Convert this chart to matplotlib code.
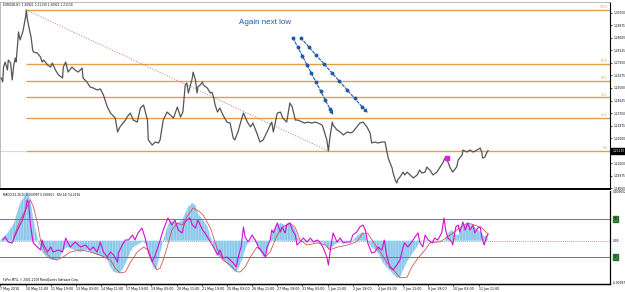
import matplotlib
matplotlib.use('Agg')
import matplotlib.pyplot as plt
import matplotlib.transforms as mtransforms
import numpy as np

# ---------------- data (hourly bars counted from 7 May 2010 03:00) ----------------
price_bar = [1, 3, 4, 6, 9, 10, 13, 15, 17, 19,
             20, 22, 23, 25, 28, 29, 32, 33, 34, 37,
             39, 41, 42, 47, 51, 53, 55, 60, 64, 66,
             70, 74, 79, 80, 83, 86, 91, 95, 99, 104,
             105, 110, 114, 118, 123, 127, 131, 136, 140, 146,
             149, 152, 159, 161, 165, 169, 174, 178, 182, 187,
             188, 193, 197, 201, 203, 207, 212, 216, 220, 225,
             229, 232, 235, 237, 239, 241, 244, 245, 248, 250,
             251, 254, 257, 258, 263, 267, 269, 271, 273, 276,
             279, 283, 288, 292, 296, 298, 302, 307, 309, 314,
             318, 321, 326, 330, 334, 339, 343, 345, 347, 352,
             356, 359, 364, 368, 371, 375, 378, 384, 387, 391,
             396, 400, 404, 409, 410, 415, 417, 419, 422, 423,
             428, 432, 436, 441, 445, 448, 453, 457, 461, 466,
             470, 472, 476, 480, 485, 489, 491, 493, 495, 498,
             499, 502, 504, 505, 508, 512, 514, 517, 521, 525,
             530, 533, 536, 540, 542, 546, 550, 555, 559, 563,
             565, 568, 572, 575, 580, 582, 584, 587, 588, 593,
             597, 601, 606, 610, 612, 613, 616, 618, 620]
price_close = [1.2620, 1.2592, 1.2696, 1.2731, 1.2675, 1.2745, 1.2724, 1.2606, 1.2710, 1.2759,
               1.2731, 1.2864, 1.2941, 1.2885, 1.2934, 1.2955, 1.3045, 1.3094, 1.3038, 1.2955,
               1.2906, 1.2815, 1.2801, 1.2794, 1.2766, 1.2731, 1.2745, 1.2710, 1.2696, 1.2724,
               1.2675, 1.2640, 1.2620, 1.2696, 1.2731, 1.2661, 1.2696, 1.2675, 1.2661, 1.2689,
               1.2620, 1.2592, 1.2557, 1.2550, 1.2536, 1.2543, 1.2501, 1.2417, 1.2375, 1.2340,
               1.2243, 1.2278, 1.2326, 1.2347, 1.2375, 1.2326, 1.2312, 1.2410, 1.2431, 1.2326,
               1.2187, 1.2152, 1.2173, 1.2166, 1.2187, 1.2326, 1.2382, 1.2361, 1.2340, 1.2417,
               1.2347, 1.2382, 1.2571, 1.2585, 1.2515, 1.2557, 1.2620, 1.2661, 1.2606, 1.2515,
               1.2557, 1.2571, 1.2592, 1.2571, 1.2550, 1.2515, 1.2520, 1.2487, 1.2431, 1.2382,
               1.2410, 1.2361, 1.2312, 1.2305, 1.2201, 1.2187, 1.2243, 1.2340, 1.2375, 1.2312,
               1.2278, 1.2305, 1.2236, 1.2173, 1.2187, 1.2243, 1.2291, 1.2312, 1.2243, 1.2375,
               1.2382, 1.2340, 1.2312, 1.2445, 1.2417, 1.2326, 1.2326, 1.2312, 1.2305, 1.2312,
               1.2305, 1.2312, 1.2305, 1.2291, 1.2278, 1.2187, 1.2110, 1.2208, 1.2312, 1.2291,
               1.2257, 1.2243, 1.2222, 1.2243, 1.2236, 1.2243, 1.2278, 1.2305, 1.2312, 1.2278,
               1.2236, 1.2166, 1.2173, 1.2166, 1.2173, 1.2173, 1.2117, 1.2061, 1.2033, 1.1991,
               1.1963, 1.1908, 1.1887, 1.1908, 1.1929, 1.1963, 1.1943, 1.1963, 1.1943, 1.1922,
               1.1943, 1.1977, 1.1956, 1.1963, 1.1998, 1.1977, 1.1943, 1.1963, 1.1998, 1.2033,
               1.2061, 1.2047, 1.1991, 1.1963, 1.1998, 1.2047, 1.2061, 1.2082, 1.2117, 1.2103,
               1.2117, 1.2103, 1.2117, 1.2131, 1.2103, 1.2061, 1.2068, 1.2096, 1.2113]

macd_bar = [0, 9, 17, 21, 25, 30, 34, 38, 42, 47,
            48, 53, 60, 66, 72, 76, 80, 85, 89, 93,
            102, 110, 118, 124, 131, 136, 140, 144, 149, 152,
            156, 161, 165, 169, 174, 178, 182, 187, 191, 194,
            197, 199, 203, 207, 212, 216, 220, 225, 231, 235,
            239, 244, 248, 251, 258, 263, 267, 271, 276, 279,
            286, 292, 298, 302, 307, 311, 315, 320, 326, 330,
            334, 339, 343, 347, 352, 356, 362, 366, 371, 375,
            378, 384, 394, 410, 415, 417, 422, 428, 436, 448,
            455, 460, 464, 467, 472, 479, 483, 486, 491, 498,
            504, 508, 512, 518, 525, 531, 533, 542, 550, 559,
            565, 569, 574, 578, 582, 587, 591, 594, 599, 603,
            607, 612, 615, 620]
macd_main = [0.0001, 0.0014, 0.0032, 0.0051, 0.0070, 0.0081, 0.0092, 0.0076, 0.0038, 0.0007,
             -0.0002, -0.0021, -0.0032, -0.0036, -0.0036, -0.0030, -0.0017, -0.0012, -0.0014, -0.0017,
             -0.0021, -0.0017, -0.0023, -0.0027, -0.0030, -0.0036, -0.0049, -0.0058, -0.0060, -0.0060,
             -0.0051, -0.0036, -0.0021, -0.0012, -0.0008, -0.0004, -0.0002, -0.0008, -0.0030, -0.0049,
             -0.0054, -0.0049, -0.0023, 0.0001, 0.0025, 0.0038, 0.0035, 0.0033, 0.0038, 0.0051,
             0.0063, 0.0070, 0.0066, 0.0051, 0.0038, 0.0027, 0.0009, -0.0010, -0.0025, -0.0032,
             -0.0040, -0.0049, -0.0058, -0.0054, -0.0036, -0.0017, -0.0002, 0.0001, -0.0004, -0.0017,
             -0.0030, -0.0023, 0.0001, 0.0020, 0.0029, 0.0033, 0.0029, 0.0033, 0.0029, 0.0020,
             0.0005, -0.0002, -0.0002, -0.0004, -0.0012, -0.0017, -0.0012, -0.0004, -0.0002, 0.0001,
             0.0011, 0.0016, 0.0011, -0.0002, -0.0012, -0.0021, -0.0030, -0.0040, -0.0049, -0.0060,
             -0.0069, -0.0068, -0.0054, -0.0036, -0.0021, -0.0008, -0.0002, 0.0001, -0.0002, -0.0002,
             0.0001, 0.0014, 0.0020, 0.0011, 0.0011, 0.0025, 0.0029, 0.0033, 0.0029, 0.0025,
             0.0020, 0.0014, 0.0008, 0.0010]

signal_bar = [17, 25, 34, 38, 42, 47, 51, 57, 64, 72,
              80, 89, 102, 114, 127, 140, 146, 152, 159, 165,
              174, 182, 188, 194, 199, 203, 207, 212, 218, 225,
              231, 237, 245, 254, 258, 267, 276, 283, 292, 301,
              305, 311, 318, 326, 333, 337, 343, 352, 359, 368,
              375, 381, 390, 403, 413, 419, 428, 441, 453, 461,
              467, 474, 483, 491, 502, 508, 517, 523, 531, 540,
              546, 559, 572, 584, 594, 603, 612, 620]
signal_val = [0.0007, 0.0038, 0.0063, 0.0076, 0.0063, 0.0033, 0.0001, -0.0021, -0.0032, -0.0036,
              -0.0030, -0.0021, -0.0017, -0.0021, -0.0027, -0.0036, -0.0051, -0.0060, -0.0058, -0.0041,
              -0.0021, -0.0012, -0.0017, -0.0041, -0.0054, -0.0051, -0.0036, -0.0012, 0.0020, 0.0033,
              0.0029, 0.0044, 0.0061, 0.0053, 0.0047, 0.0024, -0.0017, -0.0036, -0.0045, -0.0058,
              -0.0058, -0.0049, -0.0030, -0.0012, -0.0021, -0.0030, -0.0021, 0.0011, 0.0025, 0.0033,
              0.0024, 0.0001, -0.0008, -0.0004, -0.0008, -0.0017, -0.0012, -0.0008, -0.0002, 0.0014,
              0.0014, -0.0002, -0.0021, -0.0040, -0.0058, -0.0069, -0.0068, -0.0049, -0.0032, -0.0017,
              -0.0004, -0.0002, 0.0011, 0.0024, 0.0033, 0.0029, 0.0024, 0.0012]

rsi_bar = [3, 6, 10, 15, 19, 23, 28, 32, 34, 36,
           38, 41, 42, 47, 51, 53, 55, 60, 64, 67,
           74, 79, 83, 86, 89, 95, 102, 108, 114, 118,
           123, 127, 131, 136, 140, 144, 149, 150, 155, 159,
           163, 168, 171, 175, 180, 184, 188, 193, 196, 199,
           202, 207, 212, 213, 218, 222, 226, 231, 234, 237,
           241, 244, 248, 251, 257, 260, 264, 267, 271, 276,
           279, 283, 288, 292, 296, 300, 302, 306, 309, 311,
           315, 320, 324, 328, 333, 337, 339, 343, 345, 347,
           352, 356, 358, 362, 364, 368, 371, 375, 377, 381,
           385, 390, 394, 398, 403, 406, 410, 415, 417, 420,
           423, 428, 432, 436, 441, 445, 448, 453, 457, 461,
           464, 467, 472, 476, 480, 485, 488, 491, 495, 499,
           504, 508, 512, 514, 518, 523, 527, 531, 533, 537,
           540, 544, 549, 552, 556, 561, 564, 566, 569, 574,
           575, 579, 582, 584, 588, 591, 594, 597, 601, 603,
           607, 610, 612, 615, 618, 620]
rsi_val = [47.9, 51.1, 45.7, 44.7, 53.2, 60.7, 69.3, 80.0, 90.7, 87.5,
           66.1, 47.9, 44.7, 40.4, 37.2, 47.9, 42.5, 35.0, 40.4, 35.0,
           37.2, 35.0, 50.0, 44.7, 40.4, 45.7, 40.4, 42.5, 37.2, 40.4,
           35.0, 45.7, 35.0, 29.7, 35.0, 31.8, 24.3, 34.0, 42.5, 47.9,
           47.9, 53.2, 47.9, 55.4, 60.7, 50.0, 35.0, 24.3, 29.7, 37.2,
           44.7, 58.6, 69.3, 71.4, 63.9, 69.3, 58.6, 55.4, 66.1, 69.3,
           71.4, 63.9, 60.7, 69.3, 58.6, 55.4, 50.0, 45.7, 40.4, 31.8,
           37.2, 28.6, 29.7, 26.5, 23.3, 19.0, 28.6, 40.4, 61.8, 51.1,
           45.7, 53.2, 47.9, 40.4, 35.0, 29.7, 40.4, 47.9, 58.6, 55.4,
           66.1, 56.4, 61.8, 55.4, 63.9, 66.1, 58.6, 53.2, 42.5, 45.7,
           50.0, 45.7, 50.0, 45.7, 47.9, 45.7, 40.4, 29.7, 21.1, 40.4,
           55.4, 45.7, 50.0, 44.7, 45.7, 45.7, 53.2, 56.4, 61.8, 63.9,
           58.6, 44.7, 34.0, 35.0, 40.4, 37.2, 47.9, 31.8, 19.0, 15.8,
           21.1, 26.5, 40.4, 44.7, 40.4, 45.7, 51.1, 55.4, 45.7, 40.4,
           53.2, 47.9, 44.7, 50.0, 47.9, 55.4, 71.4, 58.6, 50.0, 45.7,
           42.5, 61.8, 63.9, 56.4, 67.1, 58.6, 66.1, 58.6, 63.9, 55.4,
           60.7, 61.8, 51.1, 42.5, 51.1, 54.2]

fib_high = 1.3094
fib_low = 1.2110
fib_start_bar = 33
fib_end_bar = 417
fib_levels = [0.0, 23.6, 38.2, 50.0, 61.8, 100.0]
fib_labels = ['0.0', '23.6', '38.2', '50.0', '61.8', '100.0']

marker_bar = 568
marker_price = 1.2058

arrow_lines = [((372, 1.2899), (423, 1.2361)),
               ((382, 1.2899), (467, 1.2375))]

time_labels = ['7 May 2010', '10 May 11:00', '11 May 19:00', '13 May 03:00', '14 May 11:00',
               '17 May 19:00', '19 May 03:00', '20 May 11:00', '21 May 19:00', '25 May 03:00',
               '26 May 11:00', '27 May 19:00', '31 May 03:00', '1 Jun 11:00', '2 Jun 19:00',
               '4 Jun 03:00', '7 Jun 11:00', '8 Jun 19:00', '10 Jun 03:00', '11 Jun 11:00']
time_tick_bars = [32 * i for i in range(len(time_labels))]

price_ticks = [1.30750, 1.29875, 1.29000, 1.28125, 1.27250, 1.26375, 1.25500, 1.24625,
               1.23750, 1.22875, 1.22000, 1.20250, 1.19375, 1.18500]
last_price = 1.21130

# ---------------- layout ----------------
W, H = 625, 292
plt.rcParams['hatch.linewidth'] = 0.35
fig = plt.figure(figsize=(W / 100, H / 100), dpi=100)
fig.patch.set_facecolor('white')


def fy(py):
    return 1 - py / H


XMAX = 775
ax = fig.add_axes([0, fy(189), 610 / W, (189 - 2) / H])
axm = fig.add_axes([0, fy(284), 610 / W, (284 - 191) / H])
axr = axm.twinx()

FIB_C = '#E3A048'
SMALL = 2.1

# ---------------- price panel ----------------
ax.set_xlim(-0.5, XMAX)
ax.set_ylim(1.1845, 1.3150)
for lv, lab in zip(fib_levels, fib_labels):
    p = fib_low + (fib_high - fib_low) * lv / 100.0
    ax.hlines(p, fib_start_bar, XMAX, color=FIB_C, lw=1.0, zorder=2)
    ax.text(XMAX - 3, p + 0.0004, lab, color=FIB_C, fontsize=SMALL, ha='right', va='bottom')
ax.hlines(fib_low, 0, fib_start_bar, color='#D8D8D8', lw=0.8, zorder=2)
ax.plot([fib_start_bar, fib_end_bar], [fib_high, fib_low], color='#D08888', lw=0.7,
        ls=(0, (1.2, 1.5)), zorder=2)
ax.plot(price_bar, price_close, color='#555555', lw=0.9, zorder=3)
ax.plot([marker_bar], [marker_price], marker='s', ms=3.2, color='#E020E0', mec='#E020E0', zorder=4)

ARROW_C = '#1F5AA6'
for (x0, y0), (x1, y1) in arrow_lines:
    ax.annotate('', xy=(x1, y1), xytext=(x0, y0),
                arrowprops=dict(arrowstyle='-|>', color=ARROW_C, lw=0.8, ls=(0, (2.5, 1.5)),
                                mutation_scale=5, shrinkA=0, shrinkB=0), zorder=5)
    t = np.linspace(0, 0.92, 9)
    ax.plot(x0 + t * (x1 - x0), y0 + t * (y1 - y0), 'o', ms=1.8, color=ARROW_C, zorder=5)
ax.text(337, 1.3010, 'Again next low', color=ARROW_C, fontsize=5.8,
        family=['Liberation Sans', 'DejaVu Sans'], ha='center', va='center')

ax.yaxis.tick_right()
ax.set_yticks(price_ticks)
ax.set_yticklabels(['%.5f' % v for v in price_ticks])
ax.tick_params(axis='y', labelsize=SMALL, length=1.5, width=0.5, pad=1, colors='black')
ax.set_xticks([])
for s in ['left', 'top']:
    ax.spines[s].set_color('#B0B0B0')
    ax.spines[s].set_linewidth(0.6)
ax.spines['right'].set_color('black')
ax.spines['right'].set_linewidth(0.8)
ax.spines['bottom'].set_color('black')
ax.spines['bottom'].set_linewidth(1.4)
btrans = mtransforms.blended_transform_factory(ax.transAxes, ax.transData)
ax.text(1.004, last_price, '%.5f' % last_price, transform=btrans, fontsize=SMALL, color='white',
        ha='left', va='center', zorder=10, clip_on=False,
        bbox=dict(facecolor='black', edgecolor='black', pad=0.7))
fig.text(3 / W, fy(5), 'EURUSD,H1  1.20921 1.21130 1.20921 1.21130', fontsize=SMALL,
         ha='left', va='center')

# ---------------- MACD + RSI panel ----------------
axm.set_xlim(-0.5, XMAX)
axm.set_ylim(-0.00805, 0.00924)
axr.set_ylim(0.8, 100.3)
axm.fill_between(macd_bar, 0, macd_main, facecolor='#8CC8EC', edgecolor='#CDE8F8',
                 hatch='||||||', lw=0, zorder=2)
axm.plot(signal_bar, signal_val, color='#D04848', lw=0.55, zorder=3)
axm.axhline(0, color='#C06868', lw=0.6, ls=(0, (1, 1.5)), zorder=1)
LEV_C = '#5A8C5A'
axr.axhline(70, color=LEV_C, lw=0.7)
axr.axhline(30, color=LEV_C, lw=0.7)
axr.plot(rsi_bar, rsi_val, color='#D010D0', lw=0.8)

axm.set_yticks([])
axr.set_yticks([])
axm.set_xticks(time_tick_bars)
axm.set_xticklabels(time_labels)
for lab in axm.get_xticklabels():
    lab.set_horizontalalignment('left')
axm.tick_params(axis='x', labelsize=2.3, length=1.5, width=0.5, pad=0.8)
for a in (axm, axr):
    a.spines['left'].set_visible(False)
    a.spines['top'].set_visible(False)
    a.spines['right'].set_color('black')
    a.spines['right'].set_linewidth(0.8)
    a.spines['bottom'].set_color('black')
    a.spines['bottom'].set_linewidth(0.9)

mtr = mtransforms.blended_transform_factory(axm.transAxes, axm.transData)
for val, lab in [(0.0090, '0.009002'), (0.0, '0.00'), (-0.0078, '-0.00787')]:
    axm.text(1.004, val, lab, transform=mtr, fontsize=SMALL, ha='left', va='center', clip_on=False)
rtr = mtransforms.blended_transform_factory(axr.transAxes, axr.transData)
for val in (70, 30):
    axr.text(1.006, val, '%d' % val, transform=rtr, fontsize=SMALL, ha='left', va='center',
             color='black', clip_on=False,
             bbox=dict(facecolor='#3E8E3E', edgecolor='#2E6E2E', pad=0.6))

fig.text(3 / W, fy(195), 'MACD(12,26,9) 0.000997 0.000561   RSI(14) 54.2236', fontsize=SMALL,
         ha='left', va='center')
fig.text(3 / W, fy(280), 'FxPro MT4, \u00a9 2001-2009 MetaQuotes Software Corp.', fontsize=SMALL,
         ha='left', va='center')

fig.savefig('out.png', dpi=100, facecolor='white')
